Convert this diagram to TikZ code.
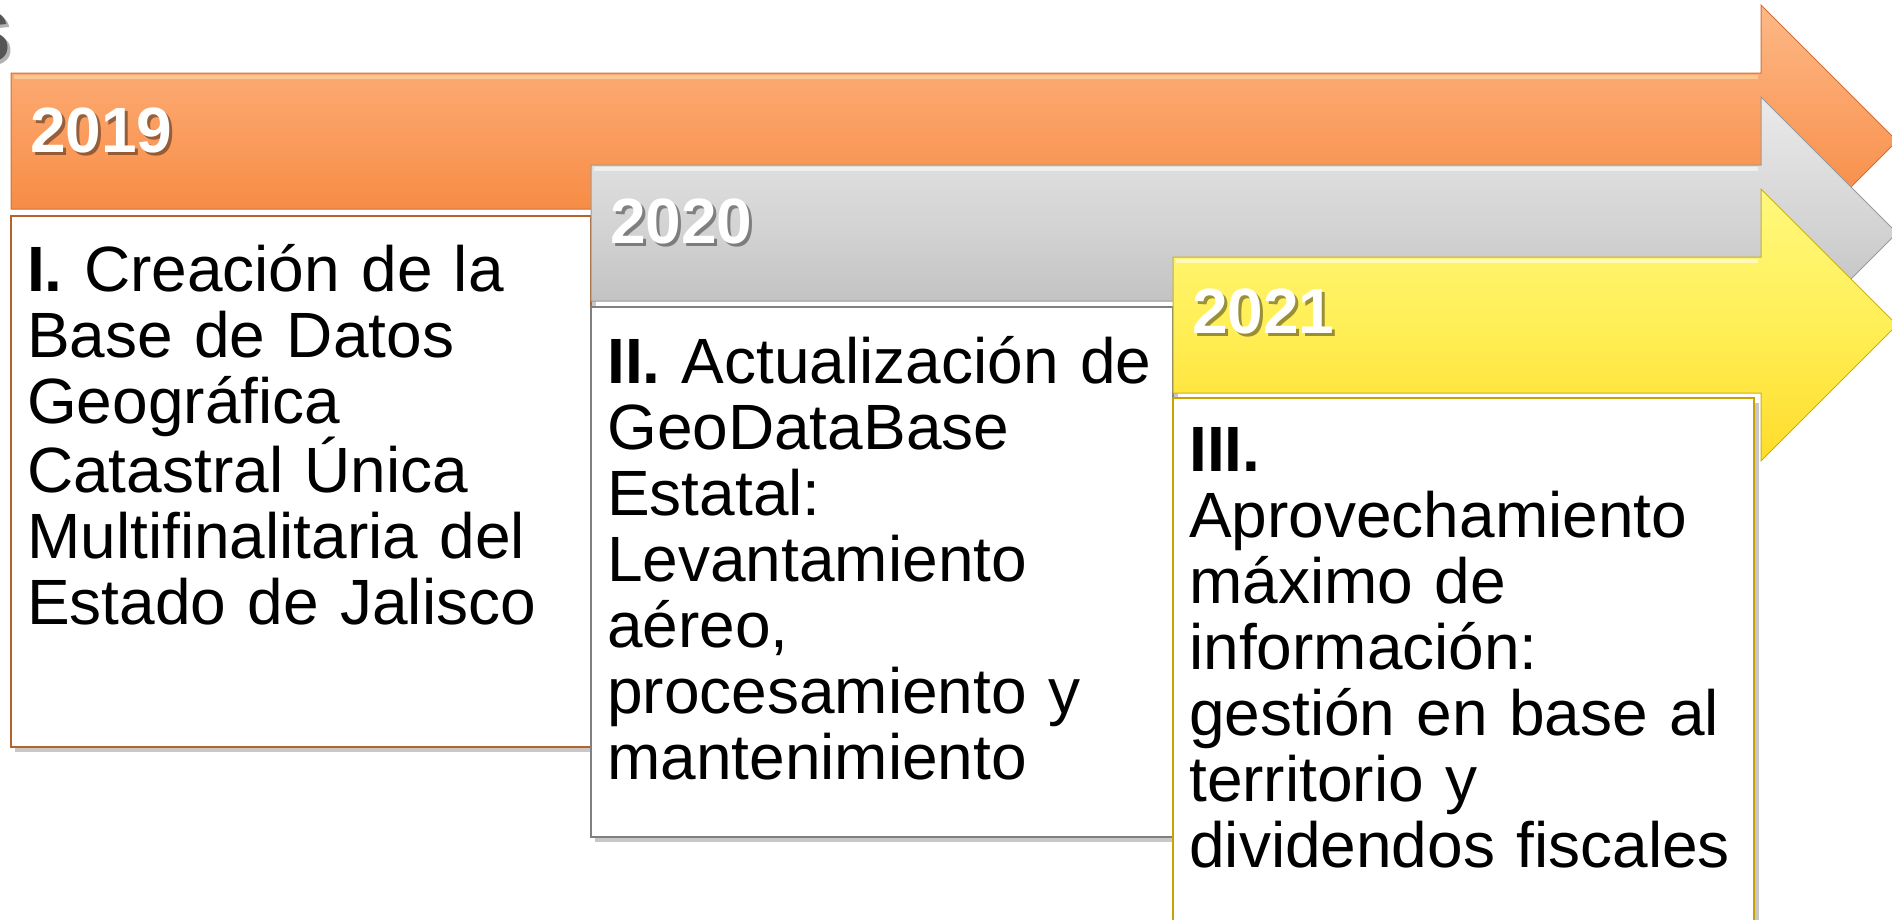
\documentclass[tikz,border=0pt]{standalone}
\usepackage{fontspec}
\setmainfont{Liberation Sans}
\definecolor{orA}{HTML}{FDB886}
\definecolor{orB}{HTML}{FA9B5C}
\definecolor{orC}{HTML}{F27E2E}
\definecolor{orEdge}{HTML}{D27038}
\definecolor{orHl}{HTML}{FFE0B0}
\definecolor{orBox}{HTML}{B5632B}
\definecolor{grA}{HTML}{EAEAEA}
\definecolor{grB}{HTML}{D2D2D2}
\definecolor{grC}{HTML}{B3B3B3}
\definecolor{grEdge}{HTML}{9A9A9A}
\definecolor{grBox}{HTML}{808080}
\definecolor{yeA}{HTML}{FFF87C}
\definecolor{yeB}{HTML}{FFEF57}
\definecolor{yeC}{HTML}{FFDC2A}
\definecolor{yeEdge}{HTML}{C8B020}
\definecolor{yeBox}{HTML}{C9A100}
\definecolor{titlegray}{HTML}{555555}
\begin{document}
\begin{tikzpicture}[x=1pt,y=1pt,
  body/.style={anchor=base west, inner sep=0pt, text width=640pt, align=left,
    font=\fontsize{64}{66}\selectfont, text=black},
  year/.style={anchor=base west, inner sep=0pt, font=\bfseries\fontsize{64}{66}\selectfont, text=white},
  yearshadow/.style={year, text=black, opacity=0.4},
  arrowshape/.style={line width=1pt, line join=miter},
  hilite/.style={line width=4pt, opacity=0.55},
  boxshape/.style={fill=white, line width=1.6pt},
  boxshadow/.style={fill=black, opacity=0.22}]
\useasboundingbox (0,0) rectangle (1892,-919);

% partial title letter
\node[anchor=base east, inner sep=0pt, font=\bfseries\fontsize{96}{96}\selectfont, text=black, opacity=0.3] (ttls) at (15,-65) {s};
\node[anchor=base east, inner sep=0pt, font=\bfseries\fontsize{96}{96}\selectfont, text=titlegray] (ttl) at (12,-62) {s};

% ---- 2019 (orange) ----
\path[arrowshape, draw=orEdge, top color=orA, bottom color=orC, middle color=orB]
  (11,-73) -- (1761,-73) -- (1761,-5) -- (1897,-141) -- (1761,-277) -- (1761,-209) -- (11,-209) -- cycle;
\draw[hilite, orHl] (14,-77) -- (1758,-77);
\fill[boxshadow] (15,-221) rectangle (596,-752);
\draw[boxshape, draw=orBox] (11,-216) rectangle (591,-747);
\node[yearshadow] (y19s) at (33,-155) {2019};
\node[year] (y19) at (30,-152) {2019};
\node[body] (t19) at (27,-291) {\textbf{I.} Creación de la\\Base de Datos\\Geográfica\\Catastral Única\\Multifinalitaria del\\Estado de Jalisco};

% ---- 2020 (gray) ----
\path[arrowshape, draw=grEdge, top color=grA, bottom color=grC, middle color=grB]
  (591,-165) -- (1761,-165) -- (1761,-97) -- (1897,-233) -- (1761,-369) -- (1761,-301) -- (591,-301) -- cycle;
\draw[hilite, white] (594,-169) -- (1758,-169);
\fill[boxshadow] (595,-312) rectangle (1178,-842);
\draw[boxshape, draw=grBox] (591,-307) rectangle (1173,-837);
\node[yearshadow] (y20s) at (613,-246) {2020};
\node[year] (y20) at (610,-243) {2020};
\node[body] (t20) at (607,-383) {\textbf{II.} Actualización de\\GeoDataBase\\Estatal:\\Levantamiento\\aéreo,\\procesamiento y\\mantenimiento};

% ---- 2021 (yellow) ----
\path[arrowshape, draw=yeEdge, top color=yeA, bottom color=yeC, middle color=yeB]
  (1173,-257) -- (1761,-257) -- (1761,-189) -- (1897,-325) -- (1761,-461) -- (1761,-393) -- (1173,-393) -- cycle;
\draw[hilite, white] (1176,-261) -- (1758,-261);
\fill[boxshadow] (1177,-403) rectangle (1759,-935);
\draw[boxshape, draw=yeBox] (1173,-398) rectangle (1754,-930);
\node[yearshadow] (y21s) at (1195,-336) {2021};
\node[year] (y21) at (1192,-333) {2021};
\node[body] (t21) at (1189,-471) {\textbf{III.}\\Aprovechamiento\\máximo de\\información:\\gestión en base al\\territorio y\\dividendos fiscales};
\end{tikzpicture}
\end{document}
